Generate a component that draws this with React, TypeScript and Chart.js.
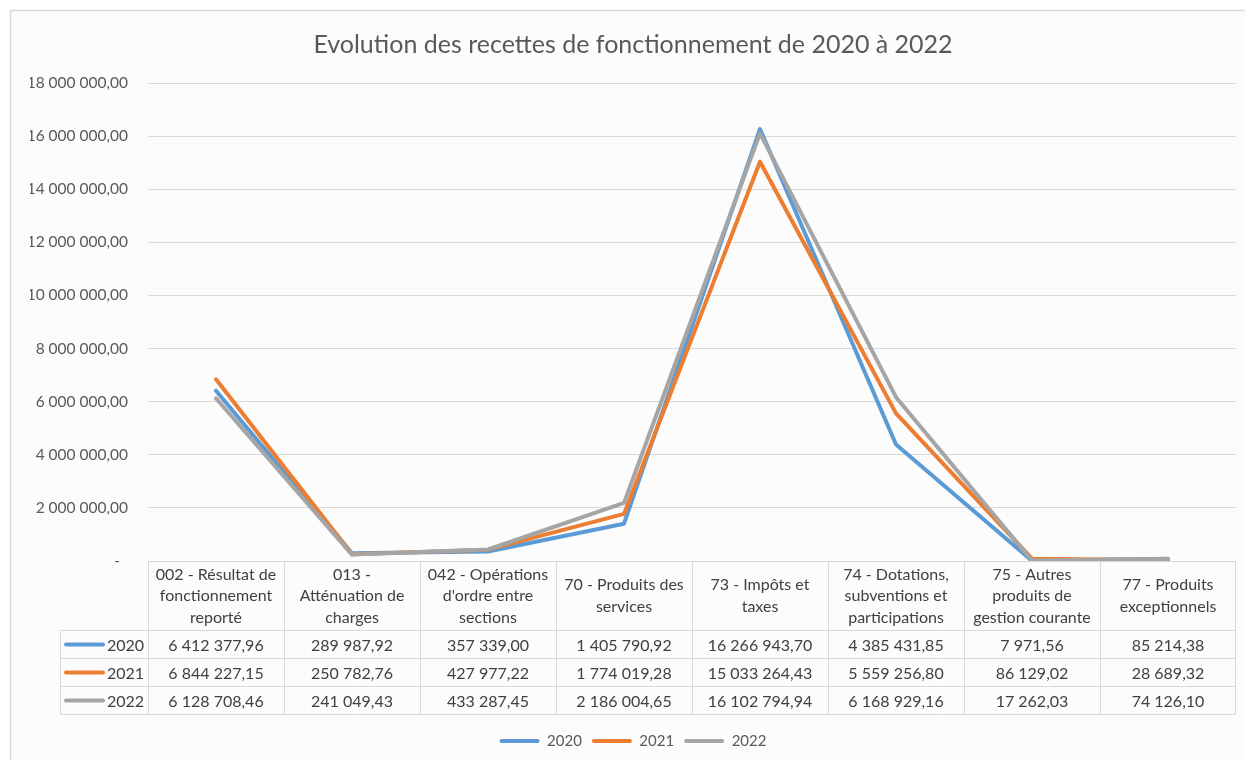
import React, { useEffect, useRef } from 'react';
import { Chart, registerables } from 'chart.js';

Chart.register(...registerables);

const chartTitle = 'Evolution des recettes de fonctionnement de 2020 à 2022';

const categories: string[][] = [
  ['002 - Résultat de', 'fonctionnement', 'reporté'],
  ['013 -', 'Atténuation de', 'charges'],
  ['042 - Opérations', "d'ordre entre", 'sections'],
  ['70 - Produits des', 'services'],
  ['73 - Impôts et', 'taxes'],
  ['74 - Dotations,', 'subventions et', 'participations'],
  ['75 - Autres', 'produits de', 'gestion courante'],
  ['77 - Produits', 'exceptionnels'],
];

const seriesNames = ['2020', '2021', '2022'];
const values2020 = [6412377.96, 289987.92, 357339.0, 1405790.92, 16266943.7, 4385431.85, 7971.56, 85214.38];
const values2021 = [6844227.15, 250782.76, 427977.22, 1774019.28, 15033264.43, 5559256.8, 86129.02, 28689.32];
const values2022 = [6128708.46, 241049.43, 433287.45, 2186004.65, 16102794.94, 6168929.16, 17262.03, 74126.1];
const seriesColors = ['#5B9BD5', '#ED7D31', '#A5A5A5'];

const yMin = 0;
const yMax = 18000000;
const yStep = 2000000;

const FONT = 'Lato, "Open Sans", sans-serif';
const TEXT = '#595959';
const GRID = '#d9d9d9';

function fr(v: number): string {
  const [i, d] = v.toFixed(2).split('.');
  return i.replace(/\B(?=(\d{3})+(?!\d))/g, ' ') + ',' + d;
}

const frameBg = {
  id: 'frameBg',
  beforeDraw(chart: any) {
    const { ctx, width, height } = chart;
    ctx.save();
    ctx.fillStyle = '#ffffff';
    ctx.fillRect(0, 0, width, height);
    ctx.fillStyle = '#fcfcfc';
    ctx.fillRect(10, 10, width - 10, height - 10);
    ctx.strokeStyle = GRID;
    ctx.lineWidth = 1.5;
    ctx.beginPath();
    ctx.moveTo(10.5, height);
    ctx.lineTo(10.5, 10.5);
    ctx.lineTo(width, 10.5);
    ctx.stroke();
    ctx.restore();
  },
};

const dataTable = {
  id: 'dataTable',
  beforeDatasetsDraw(chart: any) {
    const { ctx, chartArea: area } = chart;
    const x = chart.scales.x;
    const n = categories.length;
    const colW = (area.right - area.left) / n;
    const top = Math.round(area.bottom) + 0.5;
    const headerBottom = top + 69;
    const rowH = 28;
    const rows = [values2020, values2021, values2022];
    const tableBottom = headerBottom + rowH * rows.length;
    const keyLeft = 60.5;
    const right = Math.round(area.right) - 0.5;

    ctx.save();
    ctx.strokeStyle = GRID;
    ctx.lineWidth = 1;
    const line = (x1: number, y1: number, x2: number, y2: number) => {
      ctx.beginPath();
      ctx.moveTo(x1, y1);
      ctx.lineTo(x2, y2);
      ctx.stroke();
    };
    line(area.left, top, right, top);
    for (let r = 0; r <= rows.length; r++) {
      const y = headerBottom + r * rowH;
      line(keyLeft, y, right, y);
    }
    for (let i = 0; i <= n; i++) {
      const xb = i === n ? right : Math.round(x.getPixelForValue(i) - colW / 2) + 0.5;
      line(xb, top, xb, tableBottom);
    }
    line(keyLeft, headerBottom, keyLeft, tableBottom);

    ctx.fillStyle = '#404040';
    ctx.font = `16px ${FONT}`;
    ctx.textAlign = 'center';
    ctx.textBaseline = 'middle';
    const lh = 21.5;
    for (let i = 0; i < n; i++) {
      const cx = x.getPixelForValue(i);
      const lines = categories[i];
      const start = (top + headerBottom) / 2 - ((lines.length - 1) * lh) / 2;
      lines.forEach((t, k) => ctx.fillText(t, cx, start + k * lh));
      rows.forEach((vals, r) => {
        ctx.fillText(fr(vals[i]), cx, headerBottom + r * rowH + rowH / 2 + 1);
      });
    }
    rows.forEach((_, r) => {
      const cy = headerBottom + r * rowH + rowH / 2;
      ctx.strokeStyle = seriesColors[r];
      ctx.lineWidth = 4;
      ctx.lineCap = 'round';
      line(66, cy, 103, cy);
      ctx.fillStyle = '#404040';
      ctx.textAlign = 'right';
      ctx.fillText(seriesNames[r], 144, cy + 1);
    });
    ctx.restore();
  },
};

export default function App() {
  const ref = useRef<HTMLCanvasElement | null>(null);
  useEffect(() => {
    if (!ref.current) return;
    const seriesValues = [values2020, values2021, values2022];
    const chart = new Chart(ref.current, {
      type: 'line',
      data: {
        labels: categories,
        datasets: seriesNames.map((name, i) => ({
          label: name,
          data: seriesValues[i],
          borderColor: seriesColors[i],
          backgroundColor: seriesColors[i],
          borderWidth: 4,
          pointRadius: 0,
          pointHoverRadius: 0,
          tension: 0,
          borderCapStyle: 'round' as const,
          borderJoinStyle: 'round' as const,
          order: seriesNames.length - i,
        })),
      },
      options: {
        responsive: false,
        animation: false,
        layout: { padding: { left: 30, right: 9, top: 10, bottom: 1.5 } },
        scales: {
          x: {
            offset: true,
            grid: { display: false },
            border: { display: false },
            ticks: { display: false },
            afterFit: (s: any) => {
              s.height = 162.5;
            },
          },
          y: {
            min: yMin,
            max: yMax,
            grid: { color: GRID, lineWidth: 1, drawTicks: false },
            border: { display: false },
            ticks: {
              stepSize: yStep,
              padding: 20,
              color: TEXT,
              font: { family: FONT, size: 15.5 },
              callback: (v: any) => (Number(v) === 0 ? '-  ' : fr(Number(v))),
            },
            afterFit: (s: any) => {
              s.width = 118;
            },
          },
        },
        plugins: {
          title: {
            display: true,
            text: chartTitle,
            color: TEXT,
            font: { family: FONT, size: 25, weight: 'normal' },
            padding: { top: 20, bottom: 23 },
          },
          legend: {
            position: 'bottom',
            labels: {
              boxWidth: 40,
              boxHeight: 4,
              useBorderRadius: true,
              borderRadius: 2,
              padding: 10,
              color: TEXT,
              font: { family: FONT, size: 15 },
              sort: (a: any, b: any) => a.datasetIndex - b.datasetIndex,
              generateLabels: (c: any) =>
                (Chart.defaults.plugins.legend.labels as any)
                  .generateLabels(c)
                  .map((l: any) => ({ ...l, lineWidth: 0 })),
            },
          },
          tooltip: { enabled: false },
        },
      },
      plugins: [frameBg, dataTable],
    } as any);
    return () => chart.destroy();
  }, []);
  return (
    <div style={{ position: 'absolute', left: 0, top: 0, width: 1245, height: 760 }}>
      <canvas ref={ref} width={1245} height={760} style={{ display: 'block' }} />
    </div>
  );
}
